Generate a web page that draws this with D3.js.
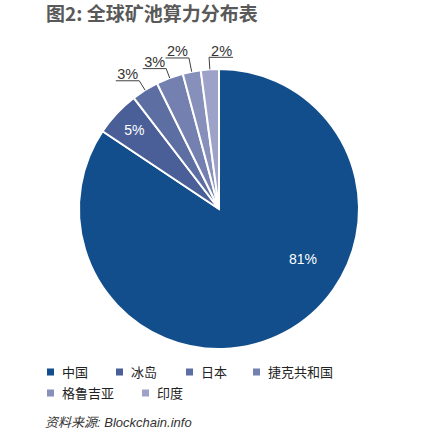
<!DOCTYPE html>
<html>
<head>
<meta charset="utf-8">
<script src="https://cdn.jsdelivr.net/npm/d3@7"></script>
<style>
  body { margin: 0; background: #fff; }
  text { font-family: 'Liberation Sans', Arial, 'Noto Sans CJK SC', sans-serif; }
</style>
</head>
<body>
<div class="container"></div>
<script>
// data
var countries = ['中国', '冰岛', '日本', '捷克共和国', '格鲁吉亚', '印度']
var shares = [81, 5, 3, 3, 2, 2]
var colors = ['#114e8b', '#4a5f98', '#5d6fa2', '#7380b0', '#8790bb', '#9da3c8']

var w = 435, h = 435
var cx = 219, cy = 209, radius = 140

var svg = d3.select('.container')
    .append('svg')
    .attr('width', w)
    .attr('height', h)

svg.append('rect')
    .attr('width', '100%')
    .attr('height', '100%')
    .style('fill', '#fff')

// title
svg.append('text')
    .attr('x', 46)
    .attr('y', 21)
    .style('font-family', "'Noto Sans CJK SC', sans-serif")
    .style('font-size', '19px')
    .style('font-weight', 'bold')
    .style('fill', '#595959')
    .text('图2: 全球矿池算力分布表')

var rows = countries.map((c, i) => ({ name: c, value: shares[i], color: colors[i] }))

var pie = d3.pie()
    .value(d => d.value)
    .sort(null)

var arcs = pie(rows)

var arc = d3.arc().innerRadius(0).outerRadius(radius)

var g = svg.append('g')
    .attr('transform', 'translate(' + cx + ',' + cy + ')')

g.selectAll('path')
    .data(arcs)
    .enter()
    .append('path')
    .attr('d', arc)
    .style('fill', d => d.data.color)
    .style('stroke', '#fff')
    .style('stroke-width', 2)

// label placement: inside for big slices, outside with leader for small ones
var labelCfg = [
    { mode: 'in', r: 98, shift: -0.54 },
    { mode: 'in', r: 116, shift: 0 },
    { mode: 'out', r: 151, side: 'left' },
    { mode: 'out', r: 150, side: 'left' },
    { mode: 'out', r: 154, side: 'left' },
    { mode: 'out', r: 152, side: 'right' }
]

function pt(a, r) {
    return [Math.sin(a) * r, -Math.cos(a) * r]
}

arcs.forEach((d, i) => {
    var cfg = labelCfg[i]
    var mid = (d.startAngle + d.endAngle) / 2
    var label = d.data.value + '%'
    if (cfg.mode == 'in') {
        var p = pt(mid + cfg.shift, cfg.r)
        g.append('text')
            .attr('x', p[0])
            .attr('y', p[1])
            .attr('dy', '0.36em')
            .attr('text-anchor', 'middle')
            .style('font-size', '14px')
            .style('fill', '#fff')
            .text(label)
    } else {
        var p0 = pt(mid, radius)
        var p1 = pt(mid, cfg.r)
        var t = g.append('text')
            .attr('y', p1[1] - 1.5)
            .style('font-size', '14.5px')
            .style('fill', '#333')
            .text(label)
        var tw = t.node().getComputedTextLength()
        var x2
        if (cfg.side == 'left') {
            t.attr('x', p1[0] - 1).attr('text-anchor', 'end')
            x2 = p1[0] - tw - 2.5
        } else {
            t.attr('x', p1[0] + 2).attr('text-anchor', 'start')
            x2 = p1[0] + tw + 3
        }
        g.append('polyline')
            .attr('points', [p0, p1, [x2, p1[1]]].map(q => q.join(',')).join(' '))
            .style('fill', 'none')
            .style('stroke', '#404040')
            .style('stroke-width', 1)
    }
})

// legend
var legendX = [47, 116, 186, 253, 47, 142]
var legendY = [372, 372, 372, 372, 393, 393]

var lg = svg.selectAll('.legend')
    .data(rows)
    .enter()
    .append('g')
    .attr('class', 'legend')
    .attr('transform', (d, i) => 'translate(' + legendX[i] + ',' + legendY[i] + ')')

lg.append('rect')
    .attr('x', 0)
    .attr('y', -3.5)
    .attr('width', 7)
    .attr('height', 7)
    .style('fill', d => d.color)

lg.append('text')
    .attr('x', 15)
    .attr('dy', '0.36em')
    .style('font-family', "'Noto Sans CJK SC', sans-serif")
    .style('font-size', '13px')
    .style('fill', '#222')
    .text(d => d.name)

// source
svg.append('text')
    .attr('x', 45)
    .attr('y', 427)
    .style('font-size', '13px')
    .style('font-style', 'italic')
    .style('fill', '#333')
    .text('资料来源: Blockchain.info')
</script>
</body>
</html>
